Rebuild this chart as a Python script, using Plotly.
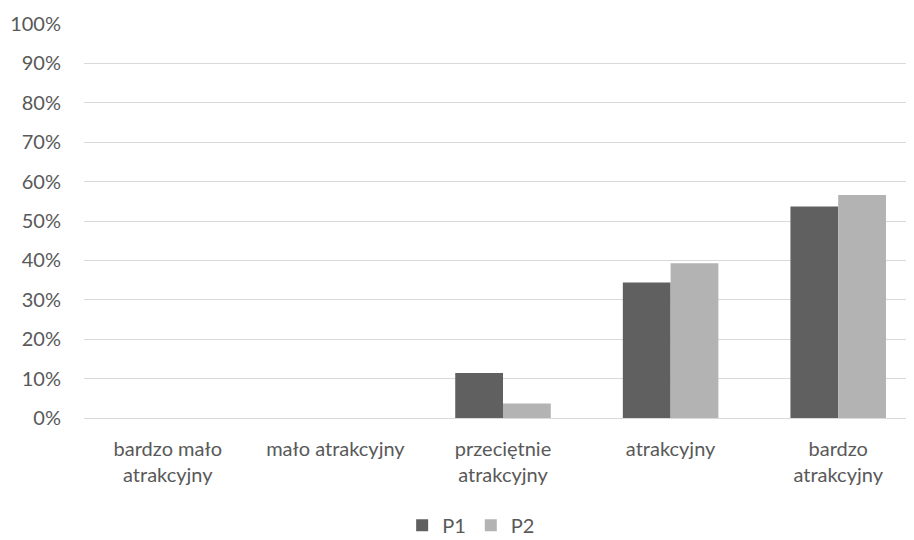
import plotly.graph_objects as go

categories = ["bardzo mało<br>atrakcyjny", "mało atrakcyjny", "przeciętnie<br>atrakcyjny",
              "atrakcyjny", "bardzo<br>atrakcyjny"]
p1 = [0, 0, 11.4, 34.4, 53.7]
p2 = [0, 0, 3.7, 39.3, 56.6]

FONT = "Lato, Open Sans, sans-serif"
TEXT = "#595959"

fig = go.Figure()
fig.add_trace(go.Bar(x=categories, y=p1, name="P1", marker=dict(color="#606060", line=dict(width=0))))
fig.add_trace(go.Bar(x=categories, y=p2, name="P2", marker=dict(color="#b3b3b3", line=dict(width=0))))

fig.update_layout(
    width=914, height=540,
    margin=dict(l=76, r=0, t=16, b=130, autoexpand=False),
    paper_bgcolor="white", plot_bgcolor="white",
    font=dict(family=FONT, size=20, color=TEXT),
    barmode="group", bargap=0.43, bargroupgap=0,
    showlegend=True,
    legend=dict(orientation="h", x=0.462, xanchor="center", y=-0.272, yanchor="middle",
                font=dict(size=20, color=TEXT), itemwidth=30, traceorder="normal",
                tracegroupgap=0),
)
fig.update_xaxes(showgrid=False, showline=True, linecolor="#d9d9d9", ticks="",
                 ticklabelstandoff=13, automargin=False, tickfont=dict(size=20, color=TEXT))
fig.update_yaxes(range=[0, 100], dtick=10, ticksuffix="%", showgrid=True, gridcolor="#d9d9d9",
                 gridwidth=1, zeroline=False, showline=False, ticks="", ticklabelstandoff=22,
                 automargin=False, tickfont=dict(size=20, color=TEXT))

fig.write_html("out.html")
